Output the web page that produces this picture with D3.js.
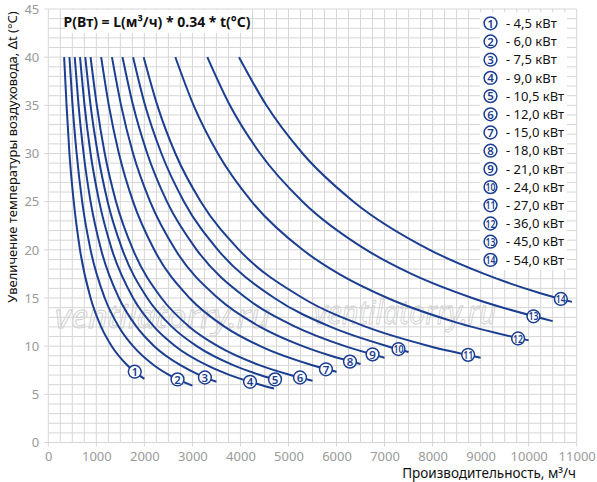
<!DOCTYPE html>
<html lang="ru">
<head>
<meta charset="UTF-8">
<title>Нагрев воздуха</title>
<script src="https://d3js.org/d3.v7.min.js"></script>
<style>
    body { margin: 0; background: #fff; }
    svg { display: block; }
    text { font-family: "Noto Sans", "Open Sans", sans-serif; }
</style>
</head>
<body>
<svg width="597" height="482"></svg>
<script>
    // Curves: [L (м³/ч), Δt (°C)]
    const curve1 = [[330,40],[380,35],[440,30],[530,25],[660,20],[880,15],[1100,12],[1320,10],[1650,8],[2000,6.6]];
    const curve2 = [[440,40],[505,35],[590,30],[705,25],[880,20],[1175,15],[1470,12],[1765,10],[2205,8],[2520,7],[3000,5.9]];
    const curve3 = [[550,40],[630,35],[735,30],[880,25],[1100,20],[1470,15],[1840,12],[2205,10],[2760,8],[3150,7],[3500,6.3]];
    const curve4 = [[660,40],[755,35],[880,30],[1060,25],[1325,20],[1765,15],[2205,12],[2645,10],[3310,8],[3780,7],[4410,6],[4700,5.6]];
    const curve5 = [[770,40],[880,35],[1030,30],[1235,25],[1545,20],[2060,15],[2575,12],[3090,10],[3860,8],[4410,7],[4800,6.4]];
    const curve6 = [[880,40],[1010,35],[1175,30],[1410,25],[1765,20],[2355,15],[2940,12],[3530,10],[4410,8],[5040,7],[5500,6.4]];
    const curve7 = [[1100,40],[1260,35],[1470,30],[1765,25],[2205,20],[2940,15],[3675,12],[4410,10],[5515,8],[6000,7.35]];
    const curve8 = [[1325,40],[1515,35],[1765,30],[2120,25],[2645,20],[3530,15],[4410,12],[5295,10],[5880,9],[6500,8.15]];
    const curve9 = [[1545,40],[1765,35],[2060,30],[2470,25],[3090,20],[4120,15],[5150,12],[6175,10],[7000,8.8]];
    const curve10 = [[1765,40],[2015,35],[2355,30],[2825,25],[3530,20],[4705,15],[5880,12],[7060,10],[7500,9.4]];
    const curve11 = [[1985,40],[2270,35],[2645,30],[3175,25],[3970,20],[5295,15],[6620,12],[7940,10],[9000,8.8]];
    const curve12 = [[2645,40],[3025,35],[3530,30],[4235,25],[5295,20],[6050,17.5],[7060,15],[8470,12.5],[10000,10.6]];
    const curve13 = [[3310,40],[3780,35],[4410,30],[5295,25],[6620,20],[7560,17.5],[8825,15],[10500,12.6]];
    const curve14 = [[3970,40],[4540,35],[5295,30],[6355,25],[7940,20],[9075,17.5],[10245,15.5],[10900,14.6]];

    // where the numbered circles sit on each curve
    const labelPoints = [[1800,7.35],[2690,6.55],[3260,6.75],[4200,6.3],[4720,6.55],[5240,6.75],[5780,7.6],
                         [6280,8.4],[6750,9.15],[7290,9.7],[8740,9.1],[9780,10.8],[10100,13.1],[10670,14.9]];
    const powers = ["4,5", "6,0", "7,5", "9,0", "10,5", "12,0", "15,0", "18,0", "21,0", "24,0", "27,0", "36,0", "45,0", "54,0"];
    const xTicks = [0, 1000, 2000, 3000, 4000, 5000, 6000, 7000, 8000, 9000, 10000, 11000];
    const yTicks = [0, 5, 10, 15, 20, 25, 30, 35, 40, 45];

    const curves = [curve1, curve2, curve3, curve4, curve5, curve6, curve7,
                    curve8, curve9, curve10, curve11, curve12, curve13, curve14];

    const blue = "#1b3e90";
    const svg = d3.select("svg");
    const plotLeft = 48.3, plotRight = 576.7, plotTop = 9, plotBottom = 442.5;

    const x = d3.scaleLinear().domain([0, 11000]).range([plotLeft, plotRight]);
    const y = d3.scaleLinear().domain([0, 45]).range([plotBottom, plotTop]);

    // grid
    const grid = svg.append("g").attr("stroke", "#d6d6d6").attr("stroke-width", 1);
    grid.selectAll("line.v")
        .data(d3.range(0, 11001, 250))
        .enter().append("line")
        .attr("x1", d => x(d)).attr("x2", d => x(d))
        .attr("y1", y(45)).attr("y2", d => d % 1000 === 0 ? plotBottom + 4 : plotBottom);
    grid.selectAll("line.h")
        .data(d3.range(0, 46, 1))
        .enter().append("line")
        .attr("y1", d => y(d)).attr("y2", d => y(d))
        .attr("x1", d => d % 5 === 0 ? plotLeft - 4 : plotLeft).attr("x2", plotRight);

    // axes labels
    const xAxis = d3.axisBottom(x).tickValues(xTicks).tickSize(0).tickPadding(9).tickFormat(d3.format("d"));
    svg.append("g").attr("transform", `translate(0,${plotBottom})`).call(xAxis)
        .call(g => g.select(".domain").remove())
        .selectAll("text").attr("fill", "#9a9a9a").attr("font-size", 13)
        .style("font-family", "'Noto Sans', sans-serif");

    const yAxis = d3.axisLeft(y).tickValues(yTicks).tickSize(0).tickPadding(9);
    svg.append("g").attr("transform", `translate(${plotLeft},0)`).call(yAxis)
        .call(g => g.select(".domain").remove())
        .selectAll("text").attr("fill", "#9a9a9a").attr("font-size", 13)
        .style("font-family", "'Noto Sans', sans-serif");

    // watermark
    [[55, 328, 215], [314, 324, 182]].forEach(p => {
        svg.append("text")
            .attr("x", p[0]).attr("y", p[1])
            .attr("font-size", 32).attr("font-style", "italic")
            .attr("textLength", p[2]).attr("lengthAdjust", "spacingAndGlyphs")
            .attr("fill", "none").attr("stroke", "#cfcfcf").attr("stroke-width", 0.9)
            .text("ventilatorry.ru");
    });

    // curves
    const line = d3.line()
        .x(d => x(d[0]))
        .y(d => y(d[1]))
        .curve(d3.curveMonotoneX);

    svg.append("g").selectAll("path")
        .data(curves)
        .enter().append("path")
        .attr("d", line)
        .attr("fill", "none")
        .attr("stroke", blue)
        .attr("stroke-width", 2);

    function badge(g, n) {
        g.append("circle").attr("r", 6.4)
            .attr("fill", "#fff").attr("stroke", blue).attr("stroke-width", 1.5);
        const t = g.append("text")
            .attr("text-anchor", "middle").attr("dy", "0.37em")
            .attr("fill", blue).attr("font-size", 11.5).attr("font-weight", 600)
            .text(n);
        if (n > 9) t.attr("textLength", 10).attr("lengthAdjust", "spacingAndGlyphs").attr("font-size", 11);
    }

    svg.append("g").selectAll("g")
        .data(labelPoints)
        .enter().append("g")
        .attr("transform", d => `translate(${x(d[0])},${y(d[1])})`)
        .each(function(d, i) { badge(d3.select(this), i + 1); });

    // formula
    svg.append("rect").attr("x", 66).attr("y", 10).attr("width", 182).attr("height", 23).attr("fill", "#fff");
    svg.append("text")
        .attr("x", 157).attr("y", 26.5)
        .attr("text-anchor", "middle")
        .attr("font-size", 14).attr("font-weight", 700).attr("fill", "#111")
        .text("P(Вт) = L(м³/ч) * 0.34 * t(°C)");

    // legend
    svg.append("rect").attr("x", 480).attr("y", 12).attr("width", 87).attr("height", 258).attr("fill", "#fff");
    const legend = svg.append("g").selectAll("g")
        .data(powers)
        .enter().append("g")
        .attr("transform", (d, i) => `translate(490.5,${23.3 + i * 18.2})`);
    legend.each(function(d, i) { badge(d3.select(this), i + 1); });
    legend.append("text")
        .attr("x", 15.5).attr("dy", "0.36em")
        .attr("font-size", 13).attr("fill", "#111")
        .text(d => "- " + d + " кВт");

    // axis titles
    svg.append("text")
        .attr("x", 576).attr("y", 478)
        .attr("text-anchor", "end")
        .attr("font-size", 13.5).attr("fill", "#111")
        .text("Производительность, м³/ч");

    svg.append("text")
        .attr("transform", "translate(17,157) rotate(-90)")
        .attr("text-anchor", "middle")
        .attr("font-size", 13).attr("fill", "#111")
        .text("Увеличение температуры воздуховода, Δt (°C)");
</script>
</body>
</html>
